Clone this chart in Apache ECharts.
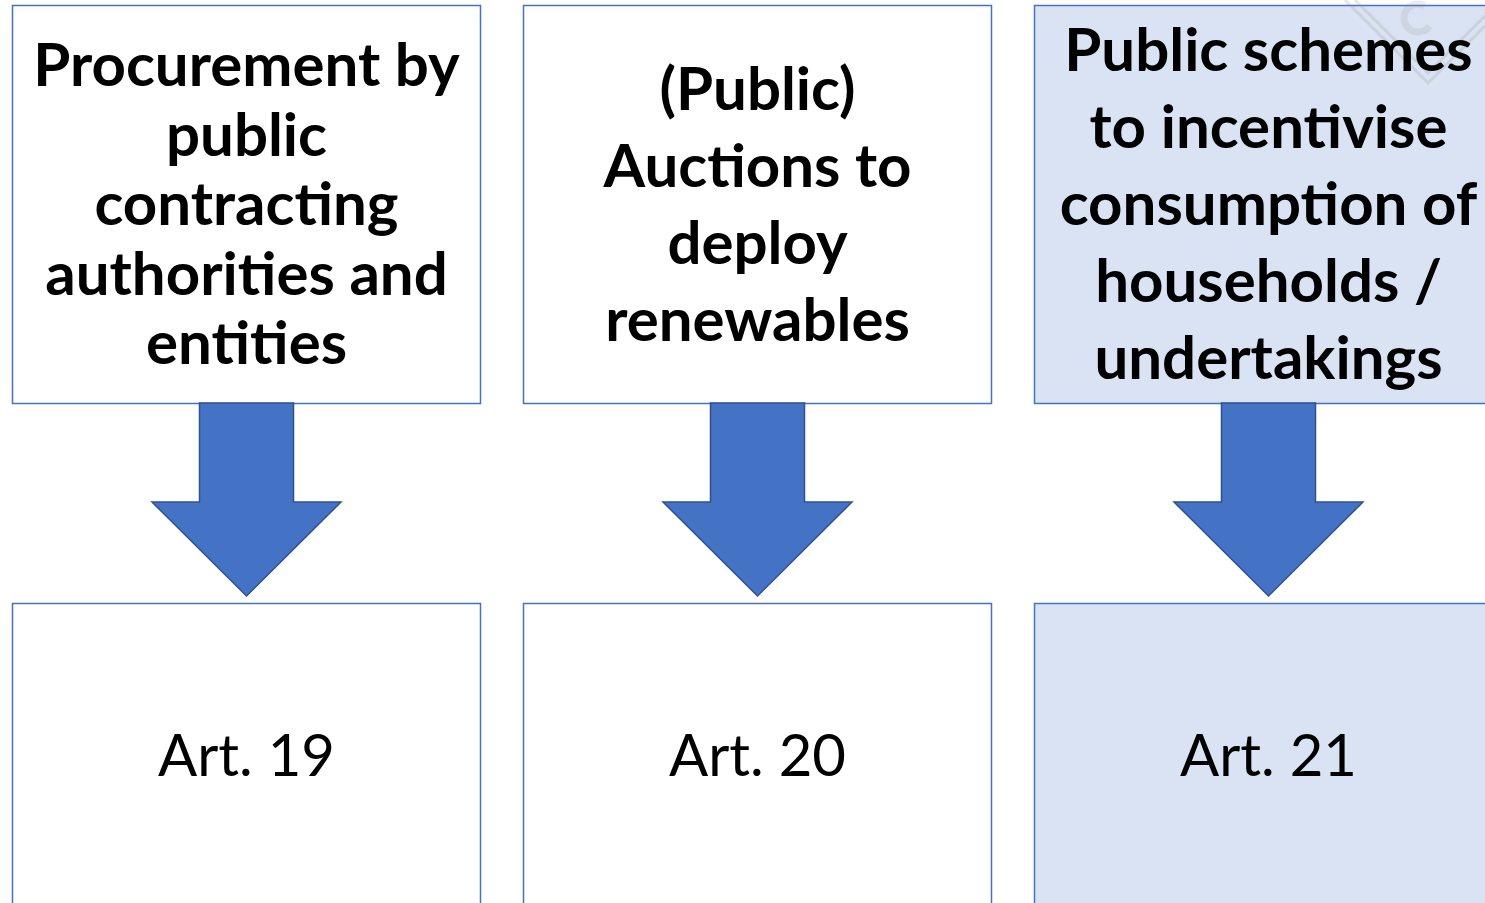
<!DOCTYPE html>
<html>
<head>
<meta charset="utf-8">
<script src="https://cdn.jsdelivr.net/npm/echarts@6/dist/echarts.min.js"></script>
<style>
html,body{margin:0;padding:0;background:#fff;}
#chart{width:1485px;height:903px;}
</style>
</head>
<body>
<div id="chart"></div>
<script>
// ---- content ----
var headings = [
  ["Procurement by", "public", "contracting", "authorities and", "entities"],
  ["(Public)", "Auctions to", "deploy", "renewables"],
  ["Public schemes", "to incentivise", "consumption of", "households /", "undertakings"]
];
var articles = ["Art. 19", "Art. 20", "Art. 21"];
var highlighted = [false, false, true];

// ---- layout / style ----
var boxLeft = [12.5, 523.5, 1034.5];
var boxWidth = 468;
var topBox = {y: 5.5, h: 398};
var bottomBox = {y: 603.5, h: 400};
var lineSpacing = [69.5, 77, 77];
var headFont = 'bold 60px Lato';
var artFont = '58px Lato';
var borderColor = '#4472C4';
var fillHi = '#DAE3F3';
var arrowFill = '#4472C4';
var arrowStroke = '#2F528F';

var chart = echarts.init(document.getElementById('chart'), null, {renderer: 'canvas'});
var elements = [];

headings.forEach(function (lines, i) {
  var x0 = boxLeft[i];
  var cx = x0 + boxWidth / 2;
  var fill = highlighted[i] ? fillHi : '#ffffff';
  elements.push({
    type: 'rect', shape: {x: x0, y: topBox.y, width: boxWidth, height: topBox.h},
    style: {fill: fill, stroke: borderColor, lineWidth: 1.5}, z: 1
  });
  elements.push({
    type: 'rect', shape: {x: x0, y: bottomBox.y, width: boxWidth, height: bottomBox.h},
    style: {fill: fill, stroke: borderColor, lineWidth: 1.5}, z: 1
  });
  var centerY = topBox.y + topBox.h / 2 + 1.5;
  var n = lines.length;
  lines.forEach(function (ln, k) {
    elements.push({
      type: 'text', z: 5,
      style: {
        text: ln, x: cx, y: centerY + (k - (n - 1) / 2) * lineSpacing[i],
        align: 'center', verticalAlign: 'middle', font: headFont, fill: '#000'
      }
    });
  });
  elements.push({
    type: 'text', z: 5,
    style: {
      text: articles[i], x: cx, y: 757, align: 'center', verticalAlign: 'middle',
      font: artFont, fill: '#000'
    }
  });
  // arrow
  var ax = cx;
  elements.push({
    type: 'polygon', z: 3,
    shape: {points: [
      [ax - 47, 403], [ax + 47, 403], [ax + 47, 502], [ax + 94.5, 502],
      [ax, 596], [ax - 94.5, 502], [ax - 47, 502]
    ]},
    style: {fill: arrowFill, stroke: arrowStroke, lineWidth: 1.5}
  });
});

// faint watermark in the top-right corner
elements.push({
  type: 'polyline', z: 4, silent: true,
  shape: {points: [[1345, 0], [1428, 83], [1485, 26]]},
  style: {stroke: 'rgba(150,150,150,0.22)', lineWidth: 3, fill: null}
});
elements.push({
  type: 'polyline', z: 4, silent: true,
  shape: {points: [[1355, 0], [1428, 73], [1485, 16]]},
  style: {stroke: 'rgba(150,150,150,0.22)', lineWidth: 3, fill: null}
});
elements.push({
  type: 'arc', z: 4, silent: true,
  shape: {cx: 1418, cy: 18, r: 14, startAngle: 0.6, endAngle: 5.2},
  style: {stroke: 'rgba(150,150,150,0.18)', lineWidth: 7, fill: null}
});

chart.setOption({
  animation: false,
  backgroundColor: '#ffffff',
  graphic: {elements: elements}
});
</script>
</body>
</html>
